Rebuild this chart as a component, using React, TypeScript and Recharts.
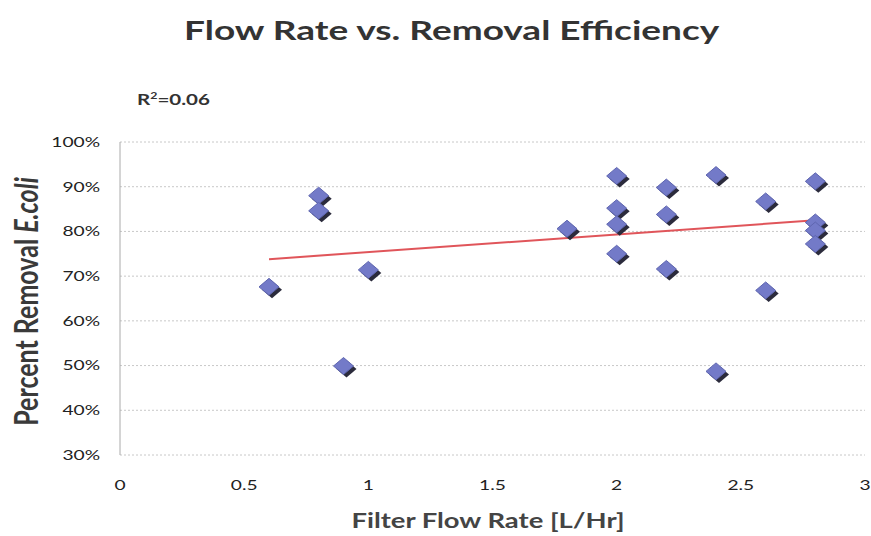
import React from 'react';
import { ScatterChart, Scatter, XAxis, YAxis, CartesianGrid } from 'recharts';

// measured points: flow rate (L/Hr) vs removal fraction
const flowRates = [0.6, 0.8, 0.8, 0.9, 1.0, 1.8, 2.0, 2.0, 2.0, 2.0, 2.2, 2.2, 2.2, 2.4, 2.4, 2.6, 2.6, 2.8, 2.8, 2.8, 2.8];
const removal = [0.676, 0.88, 0.846, 0.499, 0.714, 0.806, 0.924, 0.852, 0.816, 0.75, 0.898, 0.838, 0.716, 0.926, 0.487, 0.867, 0.668, 0.912, 0.82, 0.802, 0.772];

// trend line end points
const trendX = [0.6, 2.8];
const trendY = [0.738, 0.825];

const xTicks = [0, 0.5, 1, 1.5, 2, 2.5, 3];
const yTicks = [0.3, 0.4, 0.5, 0.6, 0.7, 0.8, 0.9, 1.0];

const points = flowRates.map((x, i) => ({ x, y: removal[i] }));
const trend = trendX.map((x, i) => ({ x, y: trendY[i] }));

const FONT = 'Lato, "Open Sans", sans-serif';
// the original image is stretched sideways, so text gets widened to match
const SX = 1.37;

const Diamond = (props: any) => {
  const { cx, cy } = props;
  if (cx == null || cy == null) return null;
  const w = 10;
  const h = 8.5;
  const d = (ox: number, oy: number) =>
    `M${cx + ox},${cy - h + oy} L${cx + w + ox},${cy + oy} L${cx + ox},${cy + h + oy} L${cx - w + ox},${cy + oy} Z`;
  return (
    <g>
      <path d={d(3, 3)} fill="#2b2b3c" />
      <path d={d(0, 0)} fill="#737ac8" stroke="#5f66b0" strokeWidth={1} />
    </g>
  );
};

const XTick = (props: any) => {
  const { x, y, payload } = props;
  return (
    <g transform={`translate(${x},${y})`}>
      <text transform={`scale(${SX},1)`} textAnchor="middle" dy="0.71em" fontSize={14} fill="#222" fontFamily={FONT}>
        {String(payload.value)}
      </text>
    </g>
  );
};

const YTick = (props: any) => {
  const { x, y, payload } = props;
  return (
    <g transform={`translate(${x},${y})`}>
      <text transform={`scale(${SX},1)`} textAnchor="end" dy="0.35em" fontSize={14} fill="#222" fontFamily={FONT}>
        {`${Math.round(payload.value * 100)}%`}
      </text>
    </g>
  );
};

export default function App() {
  const wide = (extra: React.CSSProperties): React.CSSProperties => ({
    position: 'absolute',
    transform: `scaleX(${SX})`,
    whiteSpace: 'nowrap',
    fontWeight: 700,
    ...extra,
  });
  return (
    <div style={{ position: 'absolute', left: 0, top: 0, width: 871, height: 536, background: '#fff', fontFamily: FONT }}>
      <div style={wide({ left: 0, width: 903, top: 13, textAlign: 'center', fontSize: 27, color: '#333', transformOrigin: '451px 0' })}>
        Flow Rate vs. Removal Efficiency
      </div>
      <div style={wide({ left: 137, top: 90, fontSize: 15, color: '#333', transformOrigin: '0 0' })}>
        R<sup style={{ fontSize: 9 }}>2</sup>=0.06
      </div>
      <div style={wide({ left: 0, width: 976, top: 508, textAlign: 'center', fontSize: 20, color: '#444', transformOrigin: '488px 0' })}>
        Filter Flow Rate [L/Hr]
      </div>
      <ScatterChart width={871} height={536} margin={{ top: 142, right: 6, bottom: 51, left: 60 }}>
        <CartesianGrid vertical={false} stroke="#c8c8c8" strokeDasharray="2 2" />
        <XAxis
          type="number"
          dataKey="x"
          domain={[0, 3]}
          ticks={xTicks}
          axisLine={false}
          tickLine={false}
          height={30}
          tickMargin={19}
          tick={<XTick />}
        />
        <YAxis
          type="number"
          dataKey="y"
          domain={[0.3, 1.0]}
          ticks={yTicks}
          width={60}
          axisLine={{ stroke: '#aaa' }}
          tickLine={false}
          tickMargin={14}
          tick={<YTick />}
          label={(p: any) => {
            const vb = p.viewBox;
            const cy = vb.y + vb.height / 2 + 3;
            return (
              <g transform={`translate(26,${cy}) scale(1.3,1) rotate(-90)`}>
                <text textAnchor="middle" dy="0.36em" fontSize={25} fontWeight={700} fill="#3a3a3a" fontFamily={FONT}>
                  Percent Removal <tspan fontStyle="italic">E.coli</tspan>
                </text>
              </g>
            );
          }}
        />
        <Scatter data={trend} line={{ stroke: '#e0555a', strokeWidth: 2 }} shape={() => null} isAnimationActive={false} />
        <Scatter data={points} shape={Diamond} isAnimationActive={false} />
      </ScatterChart>
    </div>
  );
}
